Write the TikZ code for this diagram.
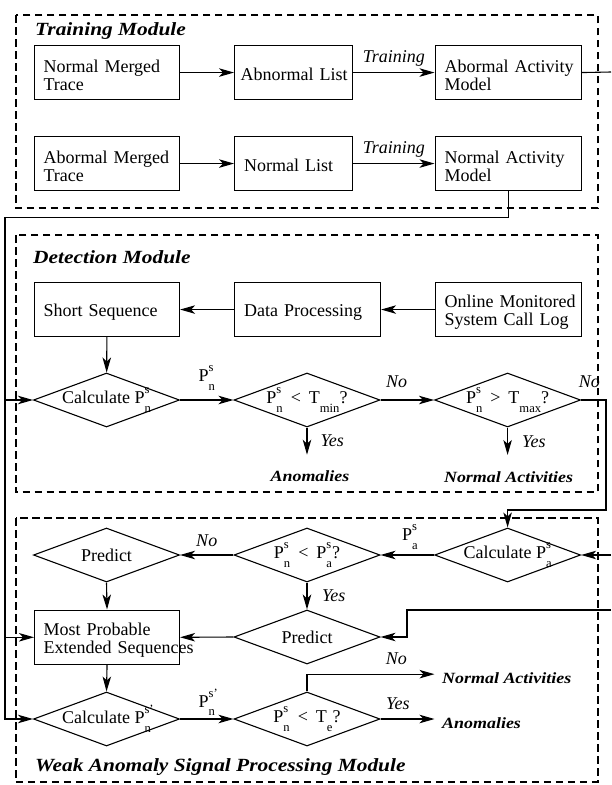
\documentclass[tikz,border=0pt]{standalone}
\usepackage{amsmath}
\usepackage{fontspec}
\setmainfont{Liberation Serif}
\newfontfamily\bifont[FakeStretch=1.15]{Liberation Serif}
\usetikzlibrary{shapes.geometric,arrows.meta}

\newcommand{\supsub}[2]{{\fontsize{12.6}{12.6}\selectfont\rlap{\raisebox{10pt}{#1}}\raisebox{-8.5pt}{#2}}}
\newcommand{\lowsub}[1]{{\fontsize{12.6}{12.6}\selectfont\raisebox{-8.5pt}{#1}}}
\newcommand{\ltsym}{\hspace{8pt}<\hspace{8pt}}
\newcommand{\gtsym}{\hspace{8pt}>\hspace{8pt}}
\newcommand{\zw}[1]{\makebox[0pt]{#1}}
\newcommand{\sth}{\rule{0pt}{18pt}}
\newcommand{\sto}{\rule{0pt}{17pt}}

\tikzset{
  every node/.style={font=\fontsize{18}{18}\selectfont},
  box/.style={draw, line width=1.1pt, anchor=north west, minimum height=54pt, inner ysep=0pt, align=left},
  dia/.style={draw, diamond, line width=1.1pt, minimum width=146pt, minimum height=54pt, inner sep=0pt},
  arr/.style={line width=1.1pt, -{Stealth[length=15pt,width=8.5pt,inset=4pt]}},
  ln/.style={line width=1.1pt},
  lbl/.style={inner sep=0pt},
  lblit/.style={inner sep=0pt, font=\fontsize{18}{18}\selectfont\itshape},
  term/.style={inner sep=0pt, font=\fontsize{15.6}{16}\bifont\bfseries\itshape},
  title/.style={inner sep=0pt, anchor=base west, font=\fontsize{18.6}{19}\bifont\bfseries\itshape},
  module/.style={draw, line width=1.9pt, dash pattern=on 7.5pt off 4.5pt},
}

\begin{document}
\begin{tikzpicture}[x=1pt,y=-1pt]
\useasboundingbox (0,0) rectangle (611,785);

% ---------- Training module ----------
\node[title] (t1) at (35,35) {Training Module};
\node[box, text width=127pt, inner xsep=9pt] (nmt) at (34,45) {\sth\mbox{Normal Merged}\\Trace};
\node[box, text width=106pt, inner xsep=6pt] (abl) at (234,45) {\sto\mbox{Abnormal List}};
\node[box, text width=127pt, inner xsep=9.5pt] (aam) at (434.5,45) {\sth\mbox{Abormal Activity}\\Model};
\node[box, text width=127pt, inner xsep=9pt] (amt) at (34,136) {\sth\mbox{Abormal Merged}\\Trace};
\node[box, text width=99pt, inner xsep=9.5pt] (nl) at (234,136) {\sto\mbox{Normal List}};
\node[box, text width=127pt, inner xsep=9.5pt] (nam) at (434.5,136) {\sth\mbox{Normal Activity}\\Model};

\draw[arr] (nmt) -- (abl);
\draw[arr] (abl) -- node[lblit, above=6pt]{Training} (aam);
\draw[arr] (amt) -- (nl);
\draw[arr] (nl) -- node[lblit, above=6pt]{Training} (nam);

\coordinate (e0) at (611,72);
\draw[ln] (aam.east) -- (e0);
\coordinate (L0) at (5,217.3);
\draw[ln] (nam.south) |- (L0);

% ---------- Detection module ----------
\node[title] (t2) at (33,263.3) {Detection Module};
\node[box, text width=127pt, inner xsep=9pt] (ss) at (34,282) {\sth\mbox{Short Sequence}};
\node[box, text width=127pt, inner xsep=9.5pt] (dp) at (234,282) {\sth\mbox{Data Processing}};
\node[box, text width=127pt, inner xsep=9.5pt] (om) at (434.5,282) {\sth\mbox{Online Monitored}\\\mbox{System Call Log}};

\node[dia] (d1) at (106.5,400) {\zw{Calculate P\supsub{s}{n}}};
\node[dia] (d2) at (307,400) {\zw{P\supsub{s}{n}\ltsym T\lowsub{min}?}};
\node[dia] (d3) at (507.6,400) {\zw{P\supsub{s}{n}\gtsym T\lowsub{max}?}};

\node[term, anchor=base, inner ysep=16pt] (an1) at (310,481.7) {Anomalies};
\node[term, anchor=base, inner ysep=16pt] (na1) at (508.6,482) {Normal Activities};

\draw[arr] (om) -- (dp);
\draw[arr] (dp) -- (ss);
\draw[arr] (ss) -- (d1);
\draw[arr] (L0) |- (d1.west);
\draw[arr] (d1) -- node[lbl, above=9pt]{P\supsub{s}{n}} (d2);
\draw[arr] (d2) -- node[lblit, above=12pt, pos=0.3]{No} (d3);
\draw[arr] (d2.south) -- node[lblit, right=13pt]{Yes} (d2.south |- an1.north);
\draw[arr] (d3.south) -- node[lblit, right=14pt]{Yes} (d3.south |- na1.north);

\coordinate (r1) at (606,400);
\coordinate (r2) at (606,510);

% ---------- Weak anomaly module ----------
\node[title] (t3) at (35,771.7) {Weak Anomaly Signal Processing Module};
\node[dia] (w1) at (106.5,555) {\zw{Predict}};
\node[dia] (w2) at (307,555) {\zw{P\supsub{s}{n}\ltsym P\supsub{s}{a}?}};
\node[dia] (w3) at (507.6,555) {\zw{Calculate P\supsub{s}{a}}};
\node[box, text width=127pt, inner xsep=9pt, minimum height=54.5pt] (mp) at (34,609.5) {\sth\mbox{Most Probable}\\\mbox{Extended Sequences}};
\node[dia] (w4) at (307,637) {\zw{Predict}};
\node[dia] (w5) at (106.5,719) {\zw{Calculate P\supsub{s'}{n}}};
\node[dia] (w6) at (307,719) {\zw{P\supsub{s}{n}\ltsym T\lowsub{e}?}};

\node[term, anchor=base west, inner xsep=7.5pt] (na2) at (434.5,683.5) {Normal Activities};
\node[term, anchor=base west, inner xsep=7.5pt] (an2) at (434.5,728) {Anomalies};

\draw[arr] (d3.east) -- node[lblit, above=12pt, pos=0.33]{No} (r1) -- (r2) -| (w3.north);

\coordinate (e1) at (611,555);
\coordinate (e2) at (611,610);
\coordinate (k1) at (407,637);
\draw[arr] (e1) -- (w3.east);
\draw[arr] (w3.west) -- node[lbl, above=5pt, pos=0.45]{P\supsub{s}{a}} (w2.east);
\draw[arr] (w2.west) -- node[lblit, above=8pt]{No} (w1.east);
\draw[arr] (w1.south) -- (mp.north);
\draw[arr] (w2.south) -- node[lblit, right=14.5pt]{Yes} (w4.north);
\draw[arr] (w4.west) -- (mp.east);
\draw[arr] (e2) -| (k1) -- (w4.east);
\draw[arr] (L0) |- (mp.west);
\draw[arr] (mp.south) -- (w5.north);
\draw[arr] (L0) |- (w5.west);
\draw[arr] (w5.east) -- node[lbl, above=2.5pt]{P\supsub{s'}{n}} (w6.west);
\draw[arr] (w6.east) -- node[lblit, above=9pt, pos=0.32]{Yes} (w6.east -| an2.west);
\draw[arr] (w6.north) |- node[lblit, above=9pt, pos=0.85]{No} ([yshift=4pt]na2.west);

% ---------- module frames ----------
\draw[module] (15.6,15) rectangle (598,208);
\draw[module] (15.6,235) rectangle (598,492);
\draw[module] (15.6,518) rectangle (598,781.7);
\end{tikzpicture}
\end{document}
